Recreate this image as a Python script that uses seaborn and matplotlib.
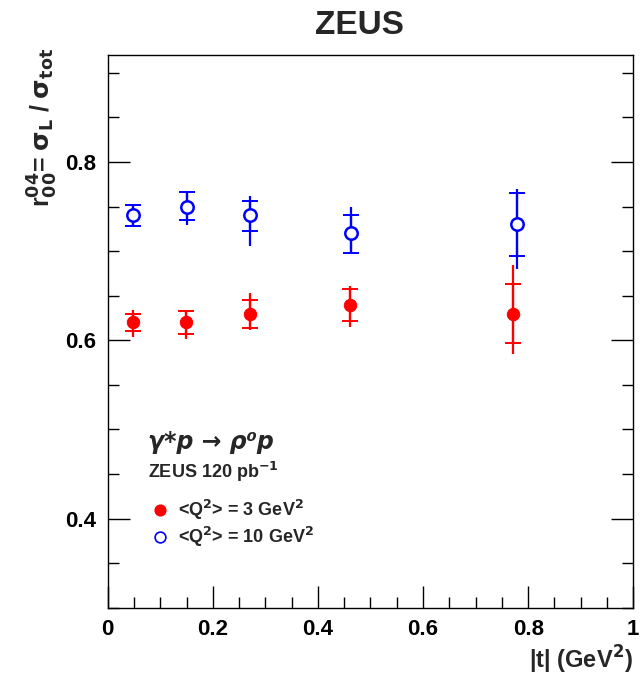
import numpy as np
import pandas as pd
import matplotlib
matplotlib.use("Agg")
import matplotlib.pyplot as plt
import seaborn as sns
from matplotlib.ticker import MultipleLocator

sns.set_style("ticks")
plt.rcParams['font.family'] = ['Liberation Sans', 'DejaVu Sans']
plt.rcParams['font.weight'] = 'bold'
plt.rcParams['mathtext.default'] = 'bf'
plt.rcParams['xtick.color'] = 'black'
plt.rcParams['ytick.color'] = 'black'
plt.rcParams['axes.edgecolor'] = 'black'

t_q3 = [0.048, 0.149, 0.270, 0.461, 0.771]
r_q3 = [0.620, 0.620, 0.630, 0.640, 0.630]
stat_up_q3 = [0.010, 0.013, 0.015, 0.017, 0.033]
stat_dn_q3 = [0.010, 0.013, 0.016, 0.018, 0.033]
tot_up_q3 = [0.014, 0.013, 0.023, 0.021, 0.054]
tot_dn_q3 = [0.016, 0.019, 0.019, 0.025, 0.045]

t_q10 = [0.048, 0.150, 0.271, 0.462, 0.778]
r_q10 = [0.740, 0.750, 0.740, 0.720, 0.730]
stat_up_q10 = [0.012, 0.016, 0.016, 0.020, 0.035]
stat_dn_q10 = [0.012, 0.015, 0.017, 0.022, 0.035]
tot_up_q10 = [0.012, 0.016, 0.022, 0.029, 0.040]
tot_dn_q10 = [0.012, 0.021, 0.034, 0.022, 0.050]

fig = plt.figure(figsize=(6.41, 6.79), dpi=100)
ax = fig.add_axes([0.168, 0.105, 0.82, 0.814])

for t, r, su, sd, tu, td, col in [
        (t_q3, r_q3, stat_up_q3, stat_dn_q3, tot_up_q3, tot_dn_q3, 'red'),
        (t_q10, r_q10, stat_up_q10, stat_dn_q10, tot_up_q10, tot_dn_q10, 'blue')]:
    ax.errorbar(t, r, yerr=[td, tu], fmt='none', ecolor=col, elinewidth=1.6)
    ax.errorbar(t, r, yerr=[sd, su], fmt='none', ecolor=col, elinewidth=1.6,
                capsize=6, capthick=1.4)

df = pd.DataFrame({'t': t_q3 + t_q10, 'r': r_q3 + r_q10,
                   'set': ['q3'] * 5 + ['q10'] * 5})
sns.scatterplot(data=df[df.set == 'q3'], x='t', y='r', ax=ax, color='red',
                s=80, edgecolor='red', zorder=5, legend=False)
sns.scatterplot(data=df[df.set == 'q10'], x='t', y='r', ax=ax, color='white',
                s=80, edgecolor='blue', linewidth=1.8, zorder=5, legend=False)

ax.set_xlim(0, 1)
ax.set_ylim(0.3, 0.92)
ax.xaxis.set_minor_locator(MultipleLocator(0.05))
ax.yaxis.set_minor_locator(MultipleLocator(0.05))
ax.set_yticks([0.4, 0.6, 0.8])
ax.set_xticks([0, 0.2, 0.4, 0.6, 0.8, 1.0])
ax.set_xticklabels(['0', '0.2', '0.4', '0.6', '0.8', '1'])
ax.tick_params(which='major', direction='in', length=16, width=1, right=True,
               labelsize=16, pad=8)
ax.tick_params(which='minor', direction='in', length=8, width=1, right=True)
for lab in ax.get_xticklabels() + ax.get_yticklabels():
    lab.set_fontweight('bold')
for s in ax.spines.values():
    s.set_linewidth(1)
ax.set_xlabel('')
ax.set_ylabel('')

fig.text(0.988, 0.005, r'|t| (GeV$^2$)', ha='right', va='bottom',
         fontsize=17, fontweight='bold')
fig.text(0.04, 0.93, r'r$^{04}_{00}$= $\sigma_L$ / $\sigma_{tot}$',
         rotation=90, ha='left', va='top', fontsize=18, fontweight='bold')
fig.text(0.56, 0.962, 'ZEUS', ha='center', va='center', fontsize=24,
         fontweight='bold')

ax.text(0.076, 0.3, 'γ*p → ρ⁰p', transform=ax.transAxes, fontsize=17,
        fontweight='bold', style='italic', va='center',
        family=['DejaVu Sans'])
ax.text(0.076, 0.245, r'ZEUS 120 pb$^{-1}$', transform=ax.transAxes,
        fontsize=13, fontweight='bold', va='center')
ax.scatter([0.1], [0.177], transform=ax.transAxes, s=60, color='red', zorder=5)
ax.scatter([0.1], [0.128], transform=ax.transAxes, s=60, facecolor='white',
           edgecolor='blue', linewidth=1.2, zorder=5)
ax.text(0.133, 0.177, r'<Q$^2$> = 3 GeV$^2$',
        transform=ax.transAxes, fontsize=13, va='center')
ax.text(0.133, 0.128, r'<Q$^2$> = 10 GeV$^2$',
        transform=ax.transAxes, fontsize=13, va='center')

fig.savefig('out.png', dpi=100)
